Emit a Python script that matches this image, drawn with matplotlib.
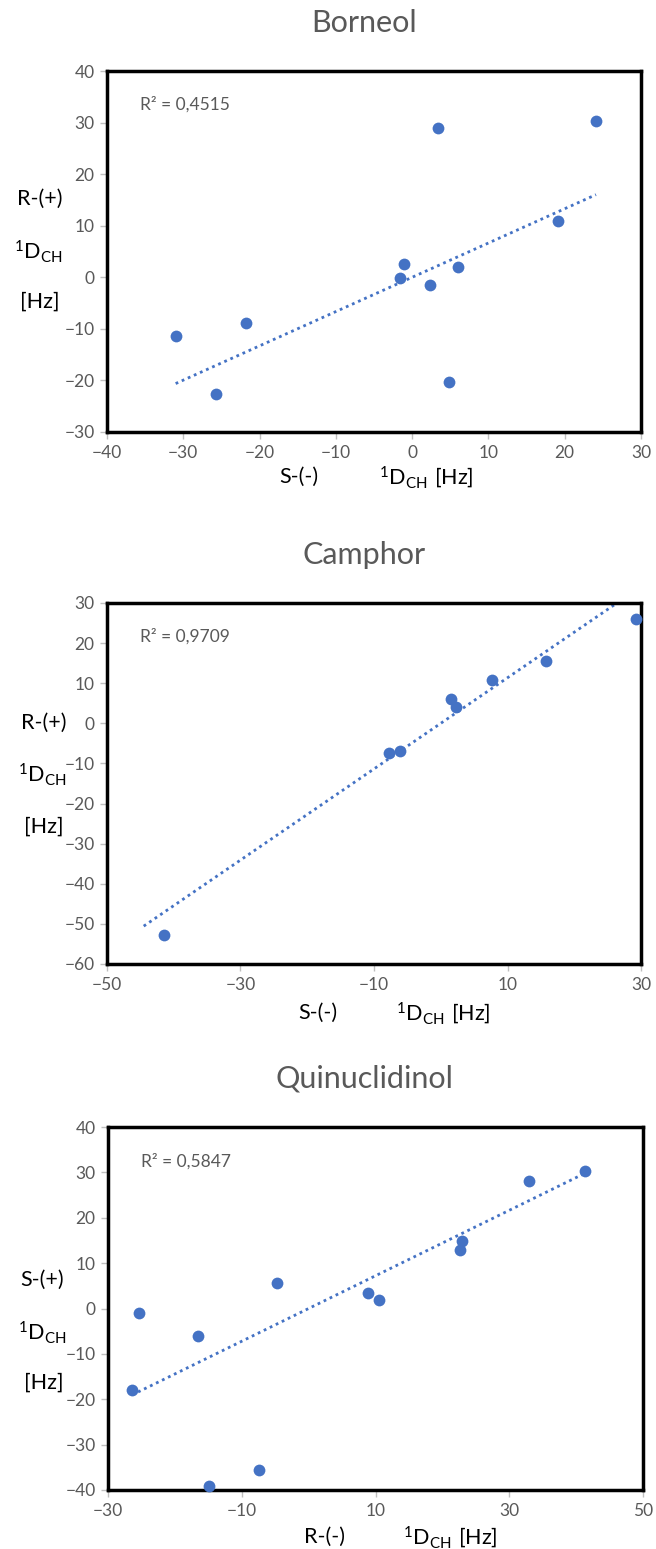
import numpy as np
import matplotlib
matplotlib.use("Agg")
import matplotlib.pyplot as plt

plt.rcParams['font.family'] = ['Lato', 'DejaVu Sans']
plt.rcParams['mathtext.fontset'] = 'custom'
plt.rcParams['mathtext.rm'] = 'Lato'

# Borneol: S-(-) vs R-(+)
borneol_x = [-31.0, -25.7, -21.8, -1.6, -1.1, 2.3, 3.4, 4.8, 5.95, 19.1, 24.1]
borneol_y = [-11.3, -22.7, -8.9, -0.1, 2.5, -1.5, 29.0, -20.3, 1.9, 10.9, 30.4]

# Camphor: S-(-) vs R-(+)
camphor_x = [-41.5, -7.7, -6.1, 1.6, 2.3, 7.7, 15.7, 29.25]
camphor_y = [-52.8, -7.4, -7.0, 6.1, 4.0, 10.8, 15.55, 25.9]

# Quinuclidinol: R-(-) vs S-(+)
quin_x = [-26.4, -25.4, -16.5, -14.9, -7.4, -4.8, 8.9, 10.5, 22.7, 22.96, 32.9, 41.3]
quin_y = [-18.0, -1.1, -6.1, -39.1, -35.6, 5.7, 3.5, 1.9, 12.9, 14.9, 28.0, 30.3]

W, H = 656, 1549
blue = '#4472C4'
grey = '#595959'

fig = plt.figure(figsize=(W / 100, H / 100), dpi=100)


def make_panel(l, r, t, b, x, y, title, r2, xlim, ylim, xticks, yticks, ext=0.0):
    ax = fig.add_axes([l / W, 1 - b / H, (r - l) / W, (b - t) / H])
    ax.scatter(x, y, s=72, color=blue, zorder=3, clip_on=False, linewidths=0)
    # linear trendline with intercept fixed at 0
    x = np.array(x)
    y = np.array(y)
    k = (x * y).sum() / (x * x).sum()
    xs = np.array([x.min() - ext, x.max() + ext])
    ax.plot(xs, k * xs, linestyle=(0, (1, 1.4)), color=blue, lw=2)
    ax.set_xlim(xlim)
    ax.set_ylim(ylim)
    ax.set_xticks(xticks)
    ax.set_yticks(yticks)
    for s in ax.spines.values():
        s.set_linewidth(2.5)
        s.set_color('black')
    ax.tick_params(direction='out', length=5, width=1, color='#bfbfbf',
                   labelcolor=grey, labelsize=12.5, pad=4)
    ax.text(0.062, 0.906, r2, transform=ax.transAxes, fontsize=12.5,
            color=grey, ha='left', va='center')
    fig.text(364 / W, 1 - (t - 48) / H, title, fontsize=22,
             color=grey, ha='center', va='center')
    return ax


ax1 = make_panel(107, 641, 71, 432, borneol_x, borneol_y, 'Borneol',
                 'R² = 0,4515', (-40, 30), (-30, 40),
                 range(-40, 31, 10), range(-30, 41, 10))
ax2 = make_panel(107, 641, 603, 964, camphor_x, camphor_y, 'Camphor',
                 'R² = 0,9709', (-50, 30), (-60, 30),
                 range(-50, 31, 20), range(-60, 31, 10), ext=3.0)
ax3 = make_panel(108, 643, 1127, 1490, quin_x, quin_y, 'Quinuclidinol',
                 'R² = 0,5847', (-30, 50), (-40, 40),
                 range(-30, 51, 20), range(-40, 41, 10))

dch = r'$\mathregular{^1D_{CH}}$'
dch_hz = r'$\mathregular{^1D_{CH}\ [Hz]}$'

# axis label pieces, placed like the reference
labels = [
    ('R-(+)', 40, 199), (dch, 38, 252), ('[Hz]', 40, 302),
    ('S-(-)', 299, 477), (dch_hz, 426, 477),
    ('R-(+)', 44, 723), (dch, 42, 775), ('[Hz]', 44, 827),
    ('S-(-)', 318, 1013), (dch_hz, 443, 1013),
    ('S-(+)', 42, 1280), (dch, 42, 1333), ('[Hz]', 44, 1383),
    ('R-(-)', 324, 1537), (dch_hz, 450, 1537),
]
for txt, px, py in labels:
    fig.text(px / W, 1 - py / H, txt, fontsize=15.5, color='black',
             ha='center', va='center')

fig.savefig('out.png', dpi=100, facecolor='white')
